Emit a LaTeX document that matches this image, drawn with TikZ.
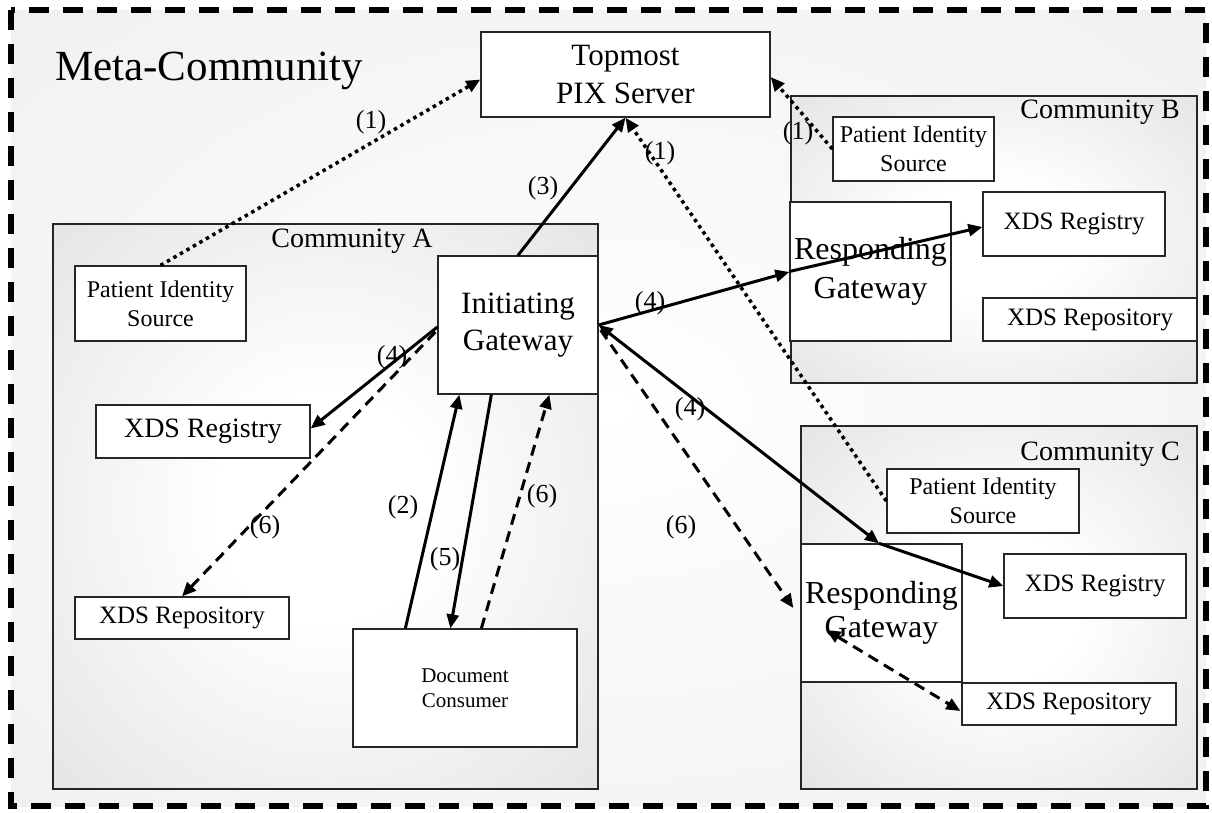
\documentclass[tikz,border=0pt]{standalone}
\usepackage{fontspec}
\setmainfont{Liberation Serif}
\usetikzlibrary{arrows.meta,calc}
\pgfdeclareradialshading{metashade}{\pgfpoint{0bp}{0bp}}{color(0bp)=(white); color(12bp)=(white!98!black); color(45bp)=(white!93!black); color(80bp)=(white!93!black)}
\pgfdeclareradialshading{commshade}{\pgfpoint{0bp}{0bp}}{color(0bp)=(white); color(10bp)=(white); color(45bp)=(white!86!black); color(80bp)=(white!86!black)}
\tikzset{
  box/.style={draw=black!85, line width=1.3pt, fill=white, inner sep=0pt, align=center},
  comm/.style={draw=black!85, line width=1.3pt, shading=commshade, inner sep=0pt},
  commlabel/.style={inner sep=0pt, font=\fontsize{28}{32}\selectfont},
  num/.style={inner sep=0pt, font=\fontsize{26}{30}\selectfont},
  solidarr/.style={line width=3pt, ->},
  dasharr/.style={line width=3pt, dash pattern=on 11pt off 7pt, ->},
  dotarr/.style={line width=3.5pt, dash pattern=on 3.5pt off 4pt, ->},
}
\begin{document}
\begin{tikzpicture}[x=1pt, y=-1pt, >={Triangle[length=14pt,width=12pt]}]
\useasboundingbox (0,0) rectangle (1212,812);
% meta-community background and border
\shade[shading=metashade] (11,10) rectangle (1206,806);
\draw[line width=5.5pt, dash pattern=on 20pt off 14pt] (11,10) rectangle (1206,806);
\node[anchor=base west, inner sep=0pt, font=\fontsize{43}{50}\selectfont] (meta) at (55,80) {Meta-Community};

% communities
\node[comm, minimum width=545pt, minimum height=565pt] (commA) at (325.5,506.5) {};
\node[comm, minimum width=406pt, minimum height=287pt] (commB) at (994,239.5) {};
\node[comm, minimum width=396pt, minimum height=363pt] (commC) at (999,607.5) {};
\node[commlabel, anchor=base] (labA) at (352,247) {Community A};
\node[commlabel, anchor=base east] (labB) at (1180,118) {Community B};
\node[commlabel, anchor=base east] (labC) at (1180,460) {Community C};

% boxes
\node[box, minimum width=289pt, minimum height=85pt, font=\fontsize{31}{38}\selectfont] (topmost) at (625.5,74.5) {Topmost\\PIX Server};

\node[box, minimum width=171pt, minimum height=75pt, font=\fontsize{24}{29}\selectfont] (pisA) at (160.5,303.5) {Patient Identity\\Source};
\node[box, minimum width=160pt, minimum height=138pt, font=\fontsize{31}{37}\selectfont] (ig) at (518,325) {Initiating\\Gateway};
\node[box, minimum width=214pt, minimum height=53pt, font=\fontsize{28}{32}\selectfont] (regA) at (203,431.5) {XDS Registry};
\node[box, minimum width=214pt, minimum height=42pt, font=\fontsize{25}{30}\selectfont] (repoA) at (182,618) {XDS Repository};
\node[box, minimum width=224pt, minimum height=118pt, font=\fontsize{21}{25}\selectfont] (dc) at (465,688) {Document\\Consumer};

\node[box, minimum width=161pt, minimum height=64pt, font=\fontsize{24}{29}\selectfont] (pisB) at (913.5,149) {Patient Identity\\Source};
\node[box, minimum width=161pt, minimum height=139pt, font=\fontsize{32}{39}\selectfont] (rgB) at (870.5,271.5) {Responding\\Gateway};
\node[box, minimum width=182pt, minimum height=64pt, font=\fontsize{25}{30}\selectfont] (regB) at (1074,224) {XDS Registry};
\node[box, minimum width=214pt, minimum height=43pt, font=\fontsize{25}{30}\selectfont] (repoB) at (1090,319.5) {XDS Repository};

\node[box, minimum width=192pt, minimum height=64pt, font=\fontsize{24}{29}\selectfont] (pisC) at (983,501) {Patient Identity\\Source};
\node[box, minimum width=161pt, minimum height=138pt, font=\fontsize{32}{34}\selectfont] (rgC) at (881.5,613) {Responding\\Gateway};
\node[box, minimum width=182pt, minimum height=64pt, font=\fontsize{25}{30}\selectfont] (regC) at (1095,586) {XDS Registry};
\node[box, minimum width=214pt, minimum height=42pt, font=\fontsize{25}{30}\selectfont] (repoC) at (1069,704) {XDS Repository};

% helper coordinates
\coordinate (rgCtop) at ($(rgC.north)+(-2.5,0)$);
\coordinate (rgCin) at ($(rgC.west)+(26,17)$);

% dotted (1)
\draw[dotarr] (pisA.north) -- ($(topmost.west)+(0,5)$);
\draw[dotarr] (pisB.west) -- ($(topmost.east)+(0,2.5)$);
\draw[dotarr] (pisC.west) -- (topmost.south);

% solid
\draw[solidarr] (ig.north) -- (topmost.south);
\draw[solidarr] ($(ig.west)+(0,2)$) -- ($(regA.east)+(0,-3)$);
\draw[solidarr] ($(dc.north west)+(53,0)$) -- ($(ig.south west)+(22,0)$);
\draw[solidarr] ($(ig.south west)+(54,0)$) -- ($(dc.north west)+(98,0)$);
\draw[solidarr] (ig.east) -- ($(rgB.west)+(0,0.5)$);
\draw[solidarr] (rgB.west) -- ($(regB.west)+(0,3)$);
\draw[solidarr, <->] (ig.east) -- (rgCtop);
\draw[solidarr] (rgCtop) -- (regC.west);

% dashed (6)
\draw[dasharr] ($(ig.west)+(-2,7)$) -- (repoA.north);
\draw[dasharr] ($(dc.north west)+(129,0)$) -- ($(ig.south west)+(112,0)$);
\draw[dasharr] ($(ig.east)+(2,5)$) -- ($(rgC.west)+(-7,-5)$);
\draw[dasharr, <->] (rgCin) -- ($(repoC.west)+(-1,7)$);

% step labels
\node[num] (n1a) at (371,122) {(1)};
\node[num] (n1b) at (660,153) {(1)};
\node[num] (n1c) at (798,133) {(1)};
\node[num] (n3) at (543,188) {(3)};
\node[num] (n4a) at (392,357) {(4)};
\node[num] (n4b) at (650,303) {(4)};
\node[num] (n4c) at (690,409) {(4)};
\node[num] (n2) at (403,507) {(2)};
\node[num] (n5) at (445,559) {(5)};
\node[num] (n6a) at (265,527) {(6)};
\node[num] (n6b) at (542,496) {(6)};
\node[num] (n6c) at (681,527) {(6)};
\end{tikzpicture}
\end{document}
